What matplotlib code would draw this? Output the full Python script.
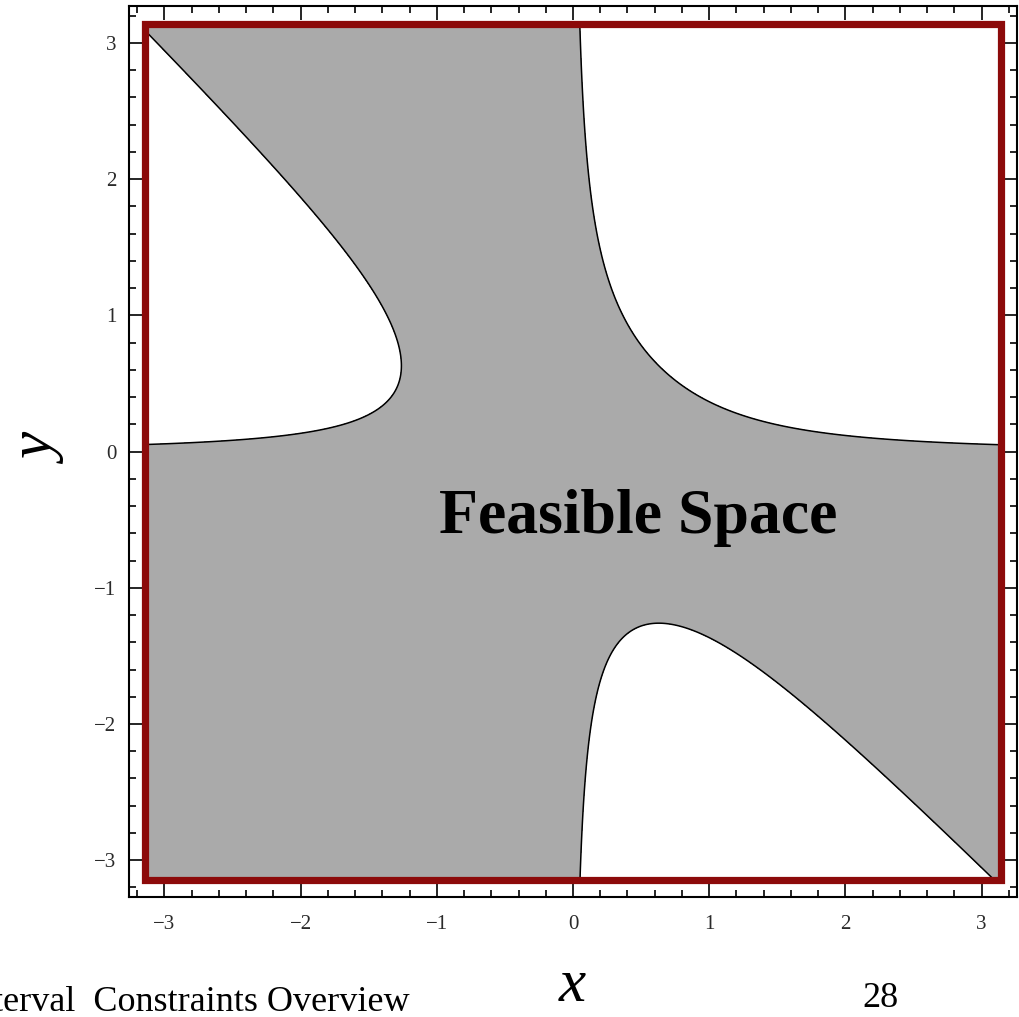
import numpy as np
import matplotlib.pyplot as plt
from matplotlib.patches import Rectangle
from matplotlib.ticker import MultipleLocator

# constraint of the example: x^2*y + x*y^2 <= bound, on the box [-pi, pi]^2
bound = 0.5
box_lo, box_hi = -np.pi, np.pi
major_ticks = [-3, -2, -1, 0, 1, 2, 3]
tick_labels = ["\u22123", "\u22122", "\u22121", "0", "1", "2", "3"]
footer_left = "Interval  Constraints Overview"
footer_right = "28"

serif = ["Liberation Serif", "DejaVu Serif"]

xs = np.linspace(box_lo, box_hi, 1201)
X, Y = np.meshgrid(xs, xs)
F = X**2 * Y + X * Y**2

fig = plt.figure(figsize=(10.19, 10.17), dpi=100)
ax = fig.add_axes([0.1266, 0.118, 0.8714, 0.876])

# feasible region and its boundary
ax.contourf(X, Y, F, levels=[F.min() - 1, bound], colors=["#aaaaaa"])
ax.contour(X, Y, F, levels=[bound], colors="black", linewidths=1.1)

# domain box
ax.add_patch(Rectangle((box_lo, box_lo), box_hi - box_lo, box_hi - box_lo,
                       fill=False, edgecolor="#8c0a0a", lw=5.2,
                       joinstyle="miter", zorder=3))

ax.set_xlim(-3.26, 3.26)
ax.set_ylim(-3.27, 3.27)

ax.set_xticks(major_ticks)
ax.set_xticklabels(tick_labels)
ax.set_yticks(major_ticks)
ax.set_yticklabels(tick_labels)
ax.xaxis.set_minor_locator(MultipleLocator(0.2))
ax.yaxis.set_minor_locator(MultipleLocator(0.2))
ax.tick_params(which="both", direction="in", top=True, right=True,
               width=1.2, color="black")
ax.tick_params(which="major", length=10)
ax.tick_params(which="minor", length=5)
ax.tick_params(axis="x", which="major", pad=13)
ax.tick_params(axis="y", which="major", pad=9)
for lab in ax.get_xticklabels() + ax.get_yticklabels():
    lab.set_family(serif)
    lab.set_fontsize(15)
    lab.set_color("#2a2a2a")
for sp in ax.spines.values():
    sp.set_linewidth(1.5)

ax.text(0.48, -0.6, "Feasible Space", family=serif, fontweight="bold",
        fontsize=46, ha="center", va="baseline", zorder=4)

# axis labels
fig.text(572 / 1019, 1 - 1014 / 1017, "x", family=serif, style="italic",
         fontsize=44, ha="center", va="bottom")
fig.text(41 / 1019, 1 - 450 / 1017, "y", family=serif, style="italic",
         fontsize=44, ha="center", va="center", rotation=90)

# slide footer (cut off at the left edge like the slide it came from)
fig.text(410 / 1019, 0.006, footer_left, family=serif, fontsize=26,
         ha="right", va="baseline")
fig.text(880 / 1019, 1 - 1015 / 1017, footer_right, family=serif, fontsize=26,
         ha="center", va="bottom")

fig.savefig("out.png", dpi=100)
